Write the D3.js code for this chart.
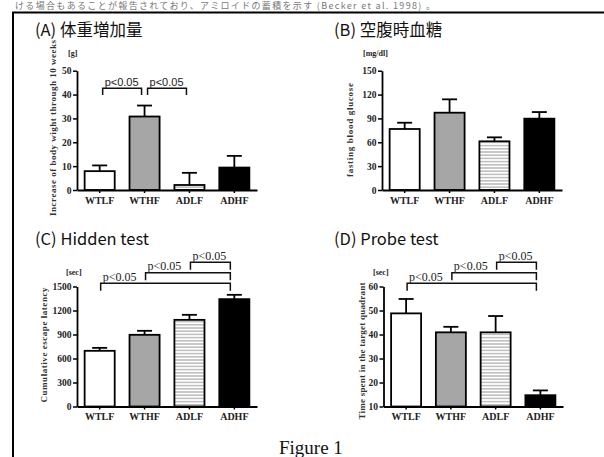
<!DOCTYPE html>
<html>
<head>
<meta charset="utf-8">
<script src="https://cdn.jsdelivr.net/npm/d3@7"></script>
<style>
  html, body { margin: 0; padding: 0; background: #fff; }
  svg { display: block; }
</style>
</head>
<body>
<svg id="chart" width="604" height="457"></svg>
<script>
// ---------------- data ----------------
const categories = ["WTLF", "WTHF", "ADLF", "ADHF"];

const bodyWeightGain = [7.9, 30.8, 2.1, 9.4];
const bodyWeightErr  = [2.4, 4.6, 5.1, 4.9];

const glucoseValues = [76.7, 97.2, 61.2, 89.7];
const glucoseErr    = [7.9, 16.8, 5.0, 8.3];

const latencyValues = [696, 896, 1083, 1342];
const latencyErr    = [37, 50, 63, 54];

const probeValues = [48.8, 40.9, 40.9, 14.7];
const probeErr    = [6.0, 2.3, 6.8, 2.0];

const weightTicks  = [0, 10, 20, 30, 40, 50];
const glucoseTicks = [0, 30, 60, 90, 120, 150];
const latencyTicks = [0, 300, 600, 900, 1200, 1500];
const probeTicks   = [10, 20, 30, 40, 50, 60];

const panelTitles = ["(A) 体重増加量", "(B) 空腹時血糖", "(C) Hidden test", "(D) Probe test"];
const unitLabels  = ["[g]", "[mg/dl]", "[sec]", "[sec]"];
const yAxisLabels = [
  "Increase of body wight through 10 weeks",
  "fasting blood glucose",
  "Cumulative escape latency",
  "Time spent in the target quadrant"
];
const sigPairsA  = [[0, 1], [1, 2]];
const sigPairsCD = [[0, 3], [1, 3], [2, 3]];
const sigLabel   = "p<0.05";
const figureCaption = "Figure 1";
const headerText = "ける場合もあることが報告されており、アミロイドの蓄積を示す (Becker et al. 1998) 。";

// ---------------- layout ----------------
const panels = [
  { values: bodyWeightGain, errs: bodyWeightErr, ticks: weightTicks, title: panelTitles[0], unit: unitLabels[0], ylab: yAxisLabels[0],
    x0: 77, x1: 257, yTop: 70.7, yBot: 190, tX: 35, tY: 36, uX: 68, uY: 56, lX: 53, lC: 128, lLen: 176,
    sig: sigPairsA, sigStyle: "A" },
  { values: glucoseValues, errs: glucoseErr, ticks: glucoseTicks, title: panelTitles[1], unit: unitLabels[1], ylab: yAxisLabels[1],
    x0: 382, x1: 562, yTop: 70.7, yBot: 190, tX: 334, tY: 36, uX: 363, uY: 56, lX: 350, lC: 130, lLen: 94,
    sig: [], sigStyle: "" },
  { values: latencyValues, errs: latencyErr, ticks: latencyTicks, title: panelTitles[2], unit: unitLabels[2], ylab: yAxisLabels[2],
    x0: 77, x1: 257, yTop: 286.5, yBot: 406.5, tX: 35, tY: 245, uX: 66, uY: 275, lX: 44, lC: 345, lLen: 115,
    sig: sigPairsCD, sigStyle: "C" },
  { values: probeValues, errs: probeErr, ticks: probeTicks, title: panelTitles[3], unit: unitLabels[3], ylab: yAxisLabels[3],
    x0: 383.5, x1: 563, yTop: 286.5, yBot: 406.5, tX: 334, tY: 245, uX: 373, uY: 275, lX: 362, lC: 351, lLen: 137,
    sig: sigPairsCD, sigStyle: "C" }
];

const fills = ["#ffffff", "#a6a6a6", "url(#hstripes)", "#000000"];
const serif = "'Liberation Serif', 'DejaVu Serif', serif";
const sans  = "'Noto Sans CJK JP', 'Noto Sans', sans-serif";

const svg = d3.select("#chart");

// stripe pattern
const defs = svg.append("defs");
const pat = defs.append("pattern").attr("id", "hstripes")
  .attr("patternUnits", "userSpaceOnUse").attr("width", 6).attr("height", 3.2);
pat.append("rect").attr("width", 6).attr("height", 3.2).attr("fill", "#fff");
pat.append("line").attr("x1", 0).attr("x2", 6).attr("y1", 1.6).attr("y2", 1.6)
  .attr("stroke", "#9a9a9a").attr("stroke-width", 1);

// header text line above the frame
svg.append("text").attr("x", 15).attr("y", 8.5)
  .attr("font-family", sans).attr("font-size", 9).attr("fill", "#777")
  .attr("textLength", 420).attr("lengthAdjust", "spacing")
  .text(headerText);

// frame
svg.append("path").attr("d", "M13,470 L13,12.5 L620,12.5")
  .attr("fill", "none").attr("stroke", "#000").attr("stroke-width", 2);

panels.forEach(p => {
  const g = svg.append("g");
  const x = d3.scaleBand().domain(categories).range([p.x0, p.x1])
    .paddingInner(0.33).paddingOuter(0.17);
  const dom = [p.ticks[0], p.ticks[p.ticks.length - 1]];
  const y = d3.scaleLinear().domain(dom).range([p.yBot, p.yTop]);

  // title
  g.append("text").attr("x", p.tX).attr("y", p.tY)
    .attr("font-family", sans).attr("font-size", 16.5).attr("fill", "#111")
    .text(p.title);

  // unit
  g.append("text").attr("x", p.uX).attr("y", p.uY)
    .attr("font-family", serif).attr("font-weight", "bold").attr("font-size", 8).attr("fill", "#222")
    .text(p.unit);

  // y label
  g.append("text")
    .attr("transform", `translate(${p.lX},${p.lC}) rotate(-90)`)
    .attr("text-anchor", "middle").attr("dy", "0.35em")
    .attr("font-family", serif).attr("font-weight", "bold").attr("font-size", 9).attr("fill", "#333")
    .attr("textLength", p.lLen).attr("lengthAdjust", "spacing")
    .text(p.ylab);

  // bars
  g.selectAll("rect.bar").data(categories).enter().append("rect")
    .attr("x", d => x(d)).attr("width", x.bandwidth())
    .attr("y", (d, i) => y(p.values[i]))
    .attr("height", (d, i) => y(dom[0]) - y(p.values[i]))
    .attr("fill", (d, i) => fills[i])
    .attr("stroke", "#000").attr("stroke-width", 1.8);

  // error bars
  categories.forEach((c, i) => {
    const cx = x(c) + x.bandwidth() / 2;
    const top = y(p.values[i] + p.errs[i]);
    g.append("line").attr("x1", cx).attr("x2", cx)
      .attr("y1", y(p.values[i])).attr("y2", top)
      .attr("stroke", "#000").attr("stroke-width", 1.8);
    g.append("line").attr("x1", cx - 7.5).attr("x2", cx + 7.5)
      .attr("y1", top).attr("y2", top)
      .attr("stroke", "#000").attr("stroke-width", 1.8);
  });

  // y axis
  const ya = g.append("g").attr("transform", `translate(${p.x0},0)`)
    .call(d3.axisLeft(y).tickValues(p.ticks).tickFormat(d3.format("d"))
      .tickSize(4).tickSizeOuter(0).tickPadding(1.5));
  // x axis
  const xa = g.append("g").attr("transform", `translate(0,${p.yBot})`)
    .call(d3.axisBottom(x).tickSize(3).tickSizeOuter(0).tickPadding(3.5));
  [ya, xa].forEach(a => {
    a.select(".domain").attr("stroke", "#000").attr("stroke-width", 1.8);
    a.selectAll(".tick line").attr("stroke", "#000").attr("stroke-width", 1.5);
    a.selectAll(".tick text").attr("font-family", serif).attr("font-weight", "bold")
      .attr("fill", "#222");
  });
  ya.selectAll(".tick text").attr("font-size", 9.5);
  xa.selectAll(".tick text").attr("font-size", 10);

  // significance brackets
  p.sig.forEach((pair, k) => {
    let lx, rx, topY, legLen;
    const c0 = x(categories[pair[0]]) + x.bandwidth() / 2;
    const c1 = x(categories[pair[1]]) + x.bandwidth() / 2;
    if (p.sigStyle === "A") {
      lx = c0 + 3; rx = c1 - 3; topY = p.yTop + 17.6; legLen = 6.7;
    } else {
      lx = c0 + 1; rx = c1 - 4; topY = p.yTop - 3.3 - 10.5 * k; legLen = 7.5;
    }
    g.append("path")
      .attr("d", `M${lx},${topY + legLen} L${lx},${topY} L${rx},${topY} L${rx},${topY + legLen}`)
      .attr("fill", "none").attr("stroke", "#111").attr("stroke-width", 1.5);
    g.append("text").attr("x", lx + 2).attr("y", topY - 2.5)
      .attr("font-family", p.sigStyle === "A" ? "'Liberation Sans', Arial, sans-serif" : serif)
      .attr("font-size", p.sigStyle === "A" ? 11 : 12).attr("fill", "#222")
      .text(sigLabel);
  });
});

// caption
svg.append("text").attr("x", 279).attr("y", 454)
  .attr("font-family", serif).attr("font-size", 19).attr("fill", "#111")
  .text(figureCaption);
</script>
</body>
</html>
